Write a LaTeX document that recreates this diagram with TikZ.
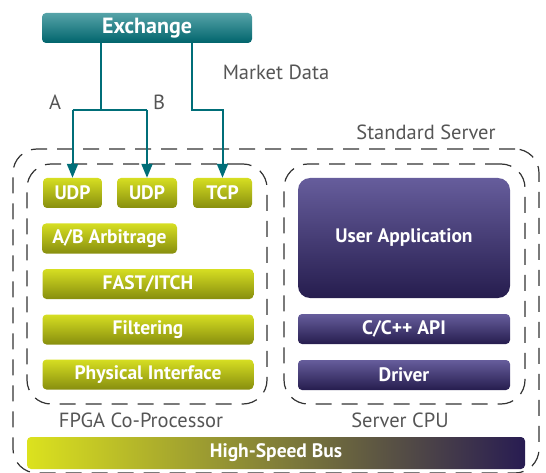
\documentclass[tikz,border=0pt]{standalone}
\usepackage{fontspec}
\setmainfont{PT Sans}
\usepackage{tikz}
\usetikzlibrary{arrows.meta,positioning}

\definecolor{teal1}{HTML}{56A3A8}
\definecolor{teal2}{HTML}{00646C}
\definecolor{tealline}{HTML}{006E78}
\definecolor{olive1}{HTML}{D6DE22}
\definecolor{olive2}{HTML}{878E0E}
\definecolor{purp1}{HTML}{665D9C}
\definecolor{purp2}{HTML}{261D4E}
\definecolor{busL}{HTML}{DCE21E}
\definecolor{busR}{HTML}{281C52}
\definecolor{txtgray}{HTML}{555555}

\begin{document}
\begin{tikzpicture}[x=1pt,y=-1pt,
  fpga/.style={rounded corners=4pt,top color=olive1,bottom color=olive2,
    text=white,font=\bfseries\fontsize{19.5}{22}\selectfont,inner sep=0pt,
    minimum height=30pt},
  cpu/.style={rounded corners=4pt,top color=purp1,bottom color=purp2,
    text=white,font=\bfseries\fontsize{19.5}{22}\selectfont,inner sep=0pt,
    minimum width=212pt,minimum height=30pt},
  group/.style={draw=black!80,line width=1.2pt,dash pattern=on 16pt off 10pt,
    rounded corners=24pt,inner sep=0pt},
  lbl/.style={text=txtgray,font=\fontsize{20.5}{24}\selectfont},
  feed/.style={draw=tealline,line width=2pt},
  tip/.style={-{Triangle[length=14pt,width=11pt]}}]
\useasboundingbox (0,0) rectangle (546,473);

% --- containers --------------------------------------------------------
\node[group,minimum width=526pt,minimum height=324pt] (server) at (276,311) {};
\node[group,minimum width=240pt,minimum height=240pt] (fpgabox) at (147,284) {};
\node[group,minimum width=241pt,minimum height=240pt] (cpubox) at (404.5,284) {};
\node[lbl] (srvlbl) at (426,132) {Standard Server};
\node[lbl] (fpgalbl) at (141,420) {FPGA Co-Processor};
\node[lbl] (cpulbl) at (400,420) {Server CPU};

% --- exchange ----------------------------------------------------------
\node[rounded corners=4pt,top color=teal1,bottom color=teal2,text=white,
  font=\bfseries\fontsize{22}{24}\selectfont,minimum width=210pt,
  minimum height=30pt,inner sep=0pt] (ex) at (147,28) {Exchange};
\node[lbl] (mkt) at (276,72) {Market Data};
\node[lbl] (la) at (55,102) {A};
\node[lbl] (lb) at (159,102) {B};

% --- FPGA stack --------------------------------------------------------
\node[fpga,minimum width=59pt] (udpa) at (72.5,193) {UDP};
\node[fpga,minimum width=60pt] (udpb) at (147,193) {UDP};
\node[fpga,minimum width=59pt] (tcp) at (222.5,193) {TCP};
\node[fpga,minimum width=135pt] (arb) at (109.5,238.5) {A/B Arbitrage};
\node[fpga,minimum width=211pt] (fast) at (148,284) {FAST/ITCH};
\node[fpga,minimum width=211pt] (filt) at (148,329.5) {Filtering};
\node[fpga,minimum width=211pt] (phy) at (148,374.5) {Physical Interface};

% --- CPU stack ---------------------------------------------------------
\node[cpu,minimum height=120pt,rounded corners=12pt] (app) at (404,238) {User Application};
\node[cpu] (api) at (404,329) {C/C++ API};
\node[cpu] (drv) at (404,375) {Driver};

% --- bus ---------------------------------------------------------------
\node[rounded corners=4pt,left color=busL,right color=busR,text=white,
  font=\bfseries\fontsize{19.5}{22}\selectfont,minimum width=498pt,
  minimum height=32pt,inner sep=0pt] (bus) at (276,453) {High-Speed Bus};

% --- market data feeds -------------------------------------------------
\coordinate (split) at (101,110);
\coordinate (bend) at (192,110);
\draw[feed] (ex.south -| split) -- (split);
\draw[feed] (split -| udpa) -- (split -| udpb);
\draw[feed,tip] (split -| udpa) -- (udpa.north);
\draw[feed,tip] (split -| udpb) -- (udpb.north);
\draw[feed,tip] (ex.south -| bend) -- (bend) -- (bend -| tcp) -- (tcp.north);
\end{tikzpicture}
\end{document}
